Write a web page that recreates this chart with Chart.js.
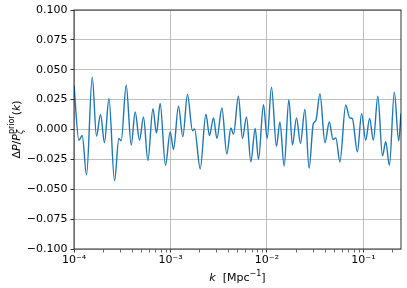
<!DOCTYPE html>
<html>
<head>
<meta charset="utf-8">
<script src="https://cdn.jsdelivr.net/npm/chart.js@4.4.0/dist/chart.umd.min.js"></script>
<style>
  html, body { margin: 0; padding: 0; background: #fff; }
</style>
</head>
<body>
<canvas id="residualChart" width="407" height="288"></canvas>
<script>
// log10(k / Mpc^-1) at the turning points of the curve
const logK = [
  -4.000, -3.949, -3.915, -3.870, -3.811, -3.767, -3.725, -3.684, -3.638, -3.580,
  -3.535, -3.511, -3.459, -3.407, -3.366, -3.321, -3.280, -3.234, -3.182, -3.145,
  -3.107, -3.052, -3.003, -2.969, -2.917, -2.872, -2.824, -2.772, -2.751, -2.692,
  -2.633, -2.596, -2.554, -2.519, -2.467, -2.416, -2.374, -2.347, -2.296, -2.254,
  -2.212, -2.167, -2.122, -2.088, -2.036, -1.998, -1.953, -1.902, -1.866, -1.822,
  -1.773, -1.736, -1.694, -1.653, -1.607, -1.563, -1.521, -1.492, -1.451, -1.399,
  -1.354, -1.316, -1.286, -1.244, -1.184, -1.143, -1.115, -1.063, -1.019, -0.977,
  -0.936, -0.897, -0.851, -0.803, -0.769, -0.731, -0.680, -0.635, -0.611
];
// delta P / P_prior
const deltaP = [
  0.037, -0.009, -0.005, -0.038, 0.044, -0.0056, 0.0125, -0.011, 0.026, -0.043,
  -0.0075, -0.0095, 0.037, -0.013, 0.0147, -0.009, 0.0105, -0.026, 0.0175, -0.003,
  0.0217, -0.030, -0.002, -0.0167, 0.0194, -0.006, 0.0294, -0.001, 0.0005, -0.033,
  0.0128, -0.005, 0.0097, -0.0075, 0.018, -0.0206, 0.0013, -0.004, 0.0278, -0.0075,
  0.0105, -0.027, 0.0008, -0.025, 0.0208, -0.0075, 0.0355, -0.014, 0.0063, -0.0306,
  0.025, -0.013, 0.0097, -0.0117, 0.0167, -0.0325, 0.0044, 0.0078, 0.030, -0.011,
  0.0063, -0.0083, -0.007, -0.027, 0.0205, 0.0098, 0.0092, -0.0187, 0.0133, -0.009,
  0.0092, -0.009, 0.0278, -0.022, -0.0103, -0.030, 0.0313, -0.0095, 0.0133
];

const xTickValues = [1e-4, 1e-3, 1e-2, 1e-1];
const xTickLabels = ['10⁻⁴', '10⁻³', '10⁻²', '10⁻¹'];
const yTickValues = [-0.1, -0.075, -0.05, -0.025, 0, 0.025, 0.05, 0.075, 0.1];
const yTickLabels = ['−0.100', '−0.075', '−0.050', '−0.025', '0.000', '0.025', '0.050', '0.075', '0.100'];

// minor ticks 2..9 x each decade
let xMinor = [];
[1e-4, 1e-3, 1e-2, 1e-1].forEach(d => {
  for (let m = 2; m <= 9; m++) {
    if (m * d <= 0.245) xMinor.push(m * d);
  }
});

function isMajor(v) {
  return xTickValues.some(t => Math.abs(t - v) / t < 1e-6);
}

const FONT = 'DejaVu Sans';

function drawParts(ctx, parts, cx, cy, angle) {
  ctx.save();
  ctx.translate(cx, cy);
  ctx.rotate(angle);
  let x = 0, pending = 0;
  const pos = [];
  parts.forEach(p => {
    ctx.font = p.f;
    const w = ctx.measureText(p.t).width;
    pos.push(x);
    if (p.hold) {
      pending = Math.max(pending, w);
    } else {
      x += Math.max(pending, w);
      pending = 0;
    }
  });
  ctx.textAlign = 'left';
  ctx.textBaseline = 'alphabetic';
  ctx.fillStyle = '#000';
  parts.forEach((p, i) => {
    ctx.font = p.f;
    ctx.fillText(p.t, pos[i] - x / 2, p.dy || 0);
  });
  ctx.restore();
}

const framePlugin = {
  id: 'frame',
  afterDraw(chart) {
    const ctx = chart.ctx;
    const a = chart.chartArea;
    ctx.save();
    ctx.strokeStyle = '#000';
    ctx.lineWidth = 0.8;
    ctx.strokeRect(a.left, a.top, a.right - a.left, a.bottom - a.top);
    ctx.restore();

    const reg = '11px "' + FONT + '"';
    const ita = 'italic 11px "' + FONT + '"';
    const small = '8px "' + FONT + '"';
    const smallIta = 'italic 8px "' + FONT + '"';

    // y title
    drawParts(ctx, [
      { t: 'Δ', f: reg },
      { t: 'P', f: ita },
      { t: '/', f: reg },
      { t: 'P', f: ita },
      { t: 'ζ', f: smallIta, dy: 3, hold: true },
      { t: 'prior', f: small, dy: -6 },
      { t: '(', f: reg },
      { t: 'k', f: ita },
      { t: ')', f: reg }
    ], 19.5, (a.top + a.bottom) / 2, -Math.PI / 2);

    // x title
    drawParts(ctx, [
      { t: 'k', f: ita },
      { t: '  [Mpc', f: reg },
      { t: '−1', f: small, dy: -5 },
      { t: ']', f: reg }
    ], (a.left + a.right) / 2, 280.5, 0);
  }
};

const points = logK.map((l, i) => ({ x: Math.pow(10, l), y: deltaP[i] }));

const ctx = document.getElementById('residualChart').getContext('2d');
new Chart(ctx, {
  type: 'line',
  data: {
    datasets: [{
      data: points,
      borderColor: '#1f77b4',
      borderWidth: 1.4,
      pointRadius: 0,
      cubicInterpolationMode: 'monotone',
      fill: false
    }]
  },
  options: {
    responsive: false,
    animation: false,
    layout: { padding: { top: 10, right: 6, left: 0, bottom: 0 } },
    plugins: {
      legend: { display: false },
      tooltip: { enabled: false }
    },
    scales: {
      x: {
        type: 'logarithmic',
        min: 1e-4,
        max: 0.245,
        afterBuildTicks: s => {
          s.ticks = xTickValues.concat(xMinor).sort((p, q) => p - q).map(v => ({ value: v, major: isMajor(v) }));
        },
        afterFit: s => { s.height = 39; },
        border: { display: false },
        grid: {
          color: c => (c.tick && isMajor(c.tick.value)) ? '#b0b0b0' : 'rgba(0,0,0,0)',
          lineWidth: 0.8,
          tickLength: 3.5,
          tickColor: '#000',
          tickWidth: c => (c.tick && isMajor(c.tick.value)) ? 0.8 : 0.6
        },
        ticks: {
          autoSkip: false,
          maxRotation: 0,
          color: '#000',
          padding: 1,
          font: { family: FONT, size: 11 },
          callback: (v) => {
            const j = xTickValues.findIndex(t => Math.abs(t - v) / t < 1e-6);
            return j >= 0 ? xTickLabels[j] : '';
          }
        }
      },
      y: {
        min: -0.1,
        max: 0.1,
        afterBuildTicks: s => { s.ticks = yTickValues.map(v => ({ value: v })); },
        afterFit: s => { s.width = 74; },
        border: { display: false },
        grid: {
          color: '#b0b0b0',
          lineWidth: 0.8,
          tickLength: 3.5,
          tickColor: '#000'
        },
        ticks: {
          color: '#000',
          padding: 3,
          font: { family: FONT, size: 11 },
          callback: (v, i) => yTickLabels[i]
        }
      }
    }
  },
  plugins: [framePlugin]
});
</script>
</body>
</html>
